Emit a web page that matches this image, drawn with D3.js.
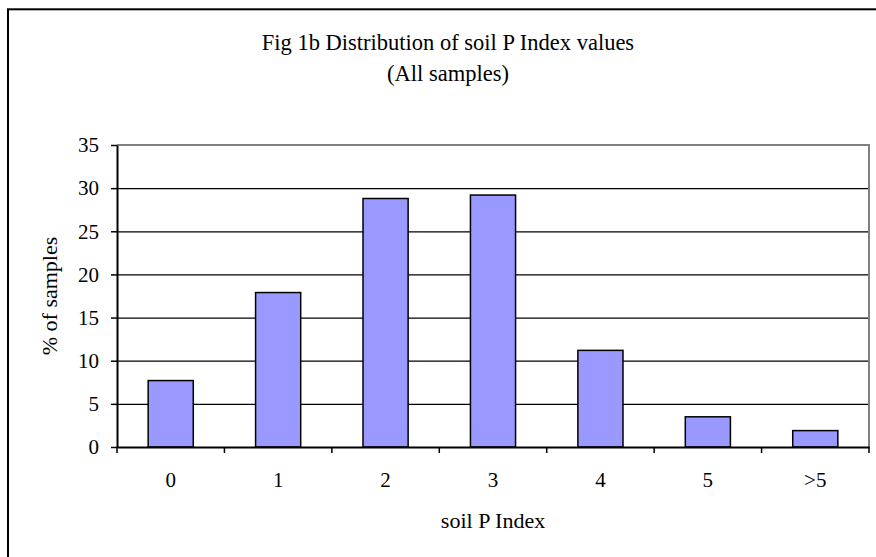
<!DOCTYPE html>
<html>
<head>
<meta charset="utf-8">
<script src="https://cdn.jsdelivr.net/npm/d3@7"></script>
<style>
  body { margin: 0; background: #fff; }
  svg text { font-family: "Liberation Serif", "Times New Roman", serif; fill: #000; }
</style>
</head>
<body>
<svg class="chart"></svg>
<script>
// data
const categories = ["0", "1", "2", "3", "4", "5", ">5"];
const percentValues = [7.7, 17.9, 28.8, 29.2, 11.2, 3.5, 1.9];
const yTicks = [0, 5, 10, 15, 20, 25, 30, 35];

const W = 876, H = 557;
const margin = {top: 145, right: 7, bottom: 110, left: 117},
      width = W - margin.left - margin.right,   // 752
      height = H - margin.top - margin.bottom;  // 302

const svg = d3.select(".chart")
  .attr("width", W)
  .attr("height", H);

// outer frame (right and bottom edges run past the picture)
svg.append("rect")
  .attr("x", 8)
  .attr("y", 9.3)
  .attr("width", W + 20)
  .attr("height", H + 20)
  .style("fill", "none")
  .style("stroke", "#000")
  .style("stroke-width", 2);

const chart = svg.append("g")
  .attr("transform", "translate(" + margin.left + "," + margin.top + ")");

let x = d3.scaleBand()
  .domain(categories)
  .range([0, width])
  .paddingInner(0.58)
  .paddingOuter(0.29);

let y = d3.scaleLinear()
  .domain([0, 35])
  .range([height, 0]);

// gridlines
chart.append("g")
  .attr("class", "grid")
  .call(d3.axisLeft(y).tickValues(yTicks.filter(d => d > 0 && d < 35)).tickSize(-width).tickFormat(""))
  .call(g => g.select(".domain").remove())
  .selectAll("line")
  .style("stroke", "#000")
  .style("stroke-width", 1.3);

// plot frame: top and right in grey
chart.append("path")
  .attr("d", "M0," + y(35) + "H" + width + "V" + height)
  .style("fill", "none")
  .style("stroke", "#808080")
  .style("stroke-width", 2);

// bars
chart.selectAll(".bar")
  .data(percentValues)
  .enter().append("rect")
  .attr("class", "bar")
  .attr("x", (d, i) => x(categories[i]))
  .attr("y", d => y(d))
  .attr("width", x.bandwidth())
  .attr("height", d => height - y(d))
  .style("fill", "#9999ff")
  .style("stroke", "#000")
  .style("stroke-width", 1.5);

// y axis
let yAxis = chart.append("g")
  .attr("class", "y-axis")
  .call(d3.axisLeft(y).tickValues(yTicks).tickSize(6).tickPadding(12).tickSizeOuter(0));
yAxis.select(".domain").style("stroke", "#000").style("stroke-width", 2);
yAxis.selectAll("line").style("stroke", "#000").style("stroke-width", 1.5);
yAxis.selectAll("text").style("font-size", "21px");

// x axis: labels at band centres, ticks at band edges
let xAxis = chart.append("g")
  .attr("class", "x-axis")
  .attr("transform", "translate(0," + height + ")")
  .call(d3.axisBottom(x).tickSize(0).tickPadding(25));
xAxis.select(".domain").style("stroke", "#000").style("stroke-width", 2);
xAxis.selectAll("text").style("font-size", "21px");

const edgeOffset = (x.step() - x.bandwidth()) / 2;
const edges = categories.map(c => x(c) - edgeOffset).concat([width]);
xAxis.selectAll(".edge")
  .data(edges)
  .enter().append("line")
  .attr("class", "edge")
  .attr("x1", d => d).attr("x2", d => d)
  .attr("y1", 0).attr("y2", 6)
  .style("stroke", "#000")
  .style("stroke-width", 1.5);

// titles
svg.append("text")
  .attr("x", 448)
  .attr("y", 50)
  .style("text-anchor", "middle")
  .style("font-size", "22.5px")
  .text("Fig 1b Distribution of soil P Index values");

svg.append("text")
  .attr("x", 448)
  .attr("y", 81)
  .style("text-anchor", "middle")
  .style("font-size", "22.5px")
  .text("(All samples)");

svg.append("text")
  .attr("x", margin.left + width / 2)
  .attr("y", 528)
  .style("text-anchor", "middle")
  .style("font-size", "22px")
  .text("soil P Index");

svg.append("text")
  .attr("transform", "translate(57," + (margin.top + height / 2) + ") rotate(-90)")
  .style("text-anchor", "middle")
  .style("font-size", "22px")
  .text("% of samples");
</script>
</body>
</html>
